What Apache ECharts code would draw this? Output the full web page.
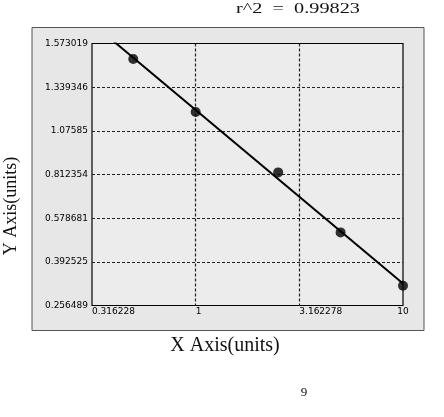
<!DOCTYPE html>
<html>
<head>
<meta charset="utf-8">
<script src="https://cdn.jsdelivr.net/npm/echarts@6/dist/echarts.min.js"></script>
<style>
html,body{margin:0;padding:0;background:#fff;}
#c{width:444px;height:417px;}
</style>
</head>
<body>
<div id="c"></div>
<script>
// ---- data ----
var xValues = [0.5, 1, 2.5, 5, 10];
var yValues = [1.490, 1.190, 0.825, 0.518, 0.318];
var xTickLabels = ['0.316228', '1', '3.162278', '10'];
var yTickValues = [0.256489, 0.392525, 0.578681, 0.812354, 1.07585, 1.339346, 1.573019];
var yTickLabels = ['0.256489', '0.392525', '0.578681', '0.812354', '1.07585', '1.339346', '1.573019'];
var titleText = 'r^2  =  0.99823';
var xName = 'X Axis(units)';
var yName = 'Y Axis(units)';
var pageNo = '9';

// axis transforms: x is log10, y uses the reference's evenly spaced tick scale
function tx(x) { return Math.log10(x); }
function ty(y) {
  for (var i = 0; i < yTickValues.length - 1; i++) {
    var a = yTickValues[i], b = yTickValues[i + 1];
    if (y <= b || i === yTickValues.length - 2) {
      return i + (y - a) / (b - a);
    }
  }
}
var pts = xValues.map(function (x, i) { return [tx(x), ty(yValues[i])]; });

// least squares fit in the transformed space
var n = pts.length, mx = 0, my = 0;
pts.forEach(function (p) { mx += p[0]; my += p[1]; });
mx /= n; my /= n;
var sxy = 0, sxx = 0;
pts.forEach(function (p) { sxy += (p[0] - mx) * (p[1] - my); sxx += (p[0] - mx) * (p[0] - mx); });
var slope = sxy / sxx, icpt = my - slope * mx;
var xMin = -0.5, xMax = 1;
var fitLine = [[xMin, icpt + slope * xMin], [xMax, icpt + slope * xMax]];

var chart = echarts.init(document.getElementById('c'), null, {renderer: 'canvas'});
var lblFont = 'DejaVu Sans';
chart.setOption({
  animation: false,
  backgroundColor: '#ffffff',
  graphic: [
    {type: 'rect', z: -100, silent: true,
     shape: {x: 32, y: 27.5, width: 392, height: 303},
     style: {fill: '#e7e7e7', stroke: '#555', lineWidth: 1}},
    {type: 'text', x: 298, y: 9, scaleX: 1.35, silent: true,
     style: {text: titleText, font: '15px "Liberation Serif"', fill: '#111', textAlign: 'center', textVerticalAlign: 'middle'}},
    {type: 'text', x: 225, y: 346, silent: true,
     style: {text: xName, font: '20px "Liberation Serif"', fill: '#111', textAlign: 'center', textVerticalAlign: 'middle'}},
    {type: 'text', x: 11, y: 206, rotation: Math.PI / 2, silent: true,
     style: {text: yName, font: '18px "Liberation Serif"', fill: '#111', textAlign: 'center', textVerticalAlign: 'middle'}},
    {type: 'text', x: 304, y: 393, silent: true,
     style: {text: pageNo, font: '13px "Liberation Serif"', fill: '#111', textAlign: 'center', textVerticalAlign: 'middle'}}
  ],
  grid: {
    left: 92, top: 43.5, right: 41, bottom: 111.5,
    show: true, backgroundColor: '#ececec', borderColor: '#000', borderWidth: 1.2
  },
  xAxis: {
    type: 'value', min: xMin, max: xMax, interval: 0.5,
    axisLine: {show: false}, axisTick: {show: false},
    axisLabel: {
      fontSize: 9, fontFamily: lblFont, color: '#000', margin: 2,
      align: 'left', alignMaxLabel: 'center',
      formatter: function (v) { return xTickLabels[Math.round((v - xMin) / 0.5)]; }
    },
    splitLine: {show: true, showMinLine: false, showMaxLine: false,
      lineStyle: {color: '#222', width: 1.2, type: [3, 2]}}
  },
  yAxis: {
    type: 'value', min: 0, max: 6, interval: 1,
    axisLine: {show: false}, axisTick: {show: false},
    axisLabel: {
      fontSize: 9, fontFamily: lblFont, color: '#000', margin: 4,
      formatter: function (v) { return yTickLabels[Math.round(v)]; }
    },
    splitLine: {show: true, showMinLine: false, showMaxLine: false,
      lineStyle: {color: '#222', width: 1.2, type: [3, 2]}}
  },
  series: [
    {type: 'line', data: fitLine, showSymbol: false, symbol: 'none', clip: true,
     lineStyle: {color: '#000', width: 2}, z: 3},
    {type: 'scatter', data: pts, symbol: 'circle', symbolSize: 10,
     itemStyle: {color: '#000'}, z: 4}
  ]
});
</script>
</body>
</html>
